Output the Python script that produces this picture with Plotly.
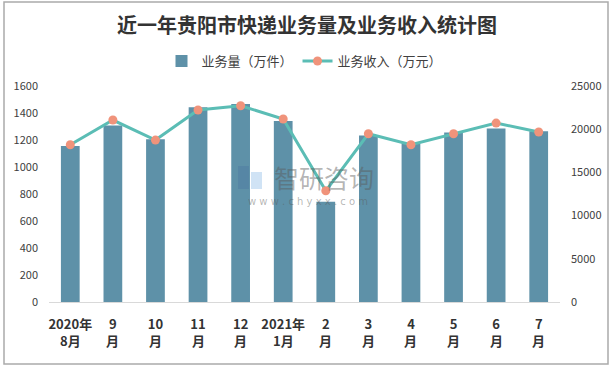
import plotly.graph_objects as go

tick_line1 = ["2020年", "9", "10", "11", "12", "2021年", "2", "3", "4", "5", "6", "7"]
tick_line2 = ["8月", "月", "月", "月", "月", "1月", "月", "月", "月", "月", "月", "月"]
volume = [1155, 1308, 1205, 1442, 1466, 1340, 742, 1234, 1175, 1256, 1286, 1264]
revenue = [18200, 21060, 18740, 22220, 22720, 21175, 12870, 19470, 18200, 19470, 20710, 19670]

W, H = 614, 370
ML, MR, MT, MB = 49, 54, 86, 68
PW = W - ML - MR
PH = H - MT - MB

def px(x):
    return (x - ML) / PW

def py(y):
    return (H - MB - y) / PH

idx = list(range(len(tick_line1)))

fig = go.Figure()
fig.add_trace(go.Bar(
    x=idx, y=volume, name="业务量（万件）",
    marker=dict(color="#5E91A8", line=dict(width=0)),
    yaxis="y",
))
fig.add_trace(go.Scatter(
    x=idx, y=revenue, name="业务收入（万元）",
    mode="lines+markers",
    line=dict(color="#5BBDB5", width=3),
    marker=dict(color="#F0937B", size=9),
    yaxis="y2",
))

annotations = [
    dict(text="<b>" + t + "</b>", xref="x", yref="paper", x=i, y=py(340),
         xanchor="center", yanchor="middle", showarrow=False,
         font=dict(size=13, color="#333333", family="Noto Sans CJK SC"))
    for i, t in zip(idx, tick_line2)
]
annotations += [
    dict(text="智研咨询", xref="paper", yref="paper", x=px(324), y=py(177),
         xanchor="center", yanchor="middle", showarrow=False,
         font=dict(size=25, color="rgba(90,90,90,0.45)", family="Noto Sans CJK SC")),
    dict(text="w w w . c h y x x . c o m", xref="paper", yref="paper", x=px(308), y=py(201),
         xanchor="center", yanchor="middle", showarrow=False,
         font=dict(size=10, color="rgba(90,90,90,0.45)", family="DejaVu Sans")),
]

fig.update_layout(
    width=W, height=H,
    margin=dict(l=ML, r=MR, t=MT, b=MB, autoexpand=False),
    paper_bgcolor="white", plot_bgcolor="white",
    font=dict(family="Noto Sans CJK SC", color="#404040", size=11),
    title=dict(text="<b>近一年贵阳市快递业务量及业务收入统计图</b>",
               x=0.5, xanchor="center", y=1 - 26 / H, yanchor="middle",
               font=dict(size=20, color="#333333", family="Noto Sans CJK SC")),
    bargap=0.56,
    showlegend=True,
    legend=dict(orientation="h", x=0.5, xanchor="center", y=1 + 25 / PH, yanchor="middle",
                font=dict(size=13, color="#404040"),
                bgcolor="rgba(0,0,0,0)"),
    xaxis=dict(
        range=[-0.5, len(idx) - 0.5],
        tickmode="array", tickvals=idx, ticktext=["<b>" + t + "</b>" for t in tick_line1],
        tickfont=dict(size=13, color="#333333"),
        showgrid=False, zeroline=False,
        showline=True, linecolor="#D9D9D9", linewidth=1,
        ticks="", ticklabelstandoff=10, automargin=False,
    ),
    yaxis=dict(
        range=[0, 1600], dtick=200, showgrid=False, zeroline=False,
        showline=False, ticks="", ticklabelstandoff=10, automargin=False,
        tickfont=dict(size=11, color="#404040"),
    ),
    yaxis2=dict(
        range=[0, 25000], dtick=5000, overlaying="y", side="right",
        showgrid=False, zeroline=False, showline=False, ticks="", ticklabelstandoff=10,
        automargin=False, tickformat="d",
        tickfont=dict(size=11, color="#404040"),
    ),
    shapes=[
        dict(type="rect", xref="paper", yref="paper",
             x0=px(4), x1=px(608), y0=py(364), y1=py(2),
             line=dict(color="#ABABAB", width=1.5), fillcolor="rgba(0,0,0,0)", layer="below"),
        dict(type="rect", xref="paper", yref="paper",
             x0=px(238), x1=px(249), y0=py(189), y1=py(166),
             line=dict(width=0), fillcolor="rgba(70,110,160,0.30)", layer="above"),
        dict(type="rect", xref="paper", yref="paper",
             x0=px(251), x1=px(262), y0=py(189), y1=py(172),
             line=dict(width=0), fillcolor="rgba(120,175,225,0.35)", layer="above"),
    ],
    annotations=annotations,
)

fig.write_html("out.html",
               config={"displayModeBar": False},
               post_script="document.body.style.margin='0';document.body.style.padding='0';"
                           "document.documentElement.style.overflow='hidden';")
